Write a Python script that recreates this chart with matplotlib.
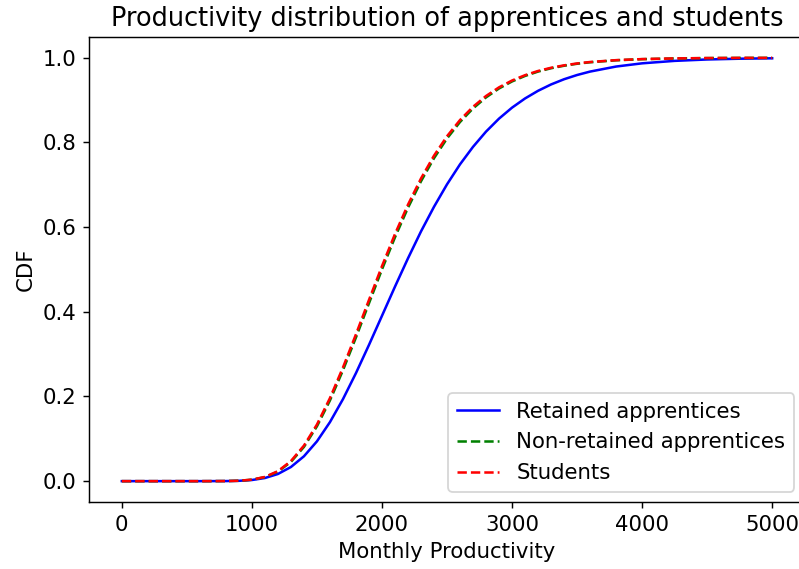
import matplotlib
matplotlib.use("Agg")
import matplotlib.pyplot as plt

# productivité mensuelle (axe x) et CDF
productivity = [0, 200, 400, 600, 800, 900, 1000, 1100, 1200, 1300, 1400, 1500,
                1600, 1700, 1800, 1900, 2000, 2100, 2200, 2300, 2400, 2500,
                2600, 2700, 2800, 2900, 3000, 3100, 3200, 3300, 3400, 3500,
                3600, 3800, 4000, 4250, 4500, 4750, 5000]

cdf_retained = [0.0, 0.0, 0.0, 0.0, 0.0002, 0.0008, 0.0027, 0.0074, 0.0169, 0.0334,
                0.0587, 0.0940, 0.1394, 0.1936, 0.2552, 0.3217, 0.3905, 0.4594,
                0.5263, 0.5898, 0.6480, 0.7010, 0.7483, 0.7896, 0.8256, 0.8563,
                0.8822, 0.9039, 0.9220, 0.9370, 0.9493, 0.9593, 0.9674, 0.9793,
                0.9869, 0.9927, 0.9960, 0.9978, 0.9988]

cdf_non_retained = [0.0, 0.0, 0.0, 0.0, 0.0002, 0.0009, 0.0034, 0.0095, 0.0225, 0.0455,
                    0.0808, 0.1295, 0.1906, 0.2618, 0.3394, 0.4200, 0.5000, 0.5759,
                    0.6457, 0.7082, 0.7627, 0.8093, 0.8483, 0.8803, 0.9064, 0.9275,
                    0.9441, 0.9571, 0.9674, 0.9753, 0.9812, 0.9859, 0.9894, 0.9941,
                    0.9967, 0.9984, 0.9993, 0.9997, 0.9998]

cdf_students = [0.0, 0.0, 0.0, 0.0, 0.0002, 0.0009, 0.0035, 0.0100, 0.0236, 0.0475,
                0.0839, 0.1337, 0.1962, 0.2684, 0.3468, 0.4279, 0.5078, 0.5836,
                0.6530, 0.7149, 0.7688, 0.8146, 0.8529, 0.8842, 0.9097, 0.9302,
                0.9463, 0.9589, 0.9688, 0.9764, 0.9821, 0.9866, 0.9900, 0.9944,
                0.9969, 0.9985, 0.9993, 0.9997, 0.9998]

DPI = 130
FS = 11.8   # texte un peu plus grand que le défaut, comme sur la référence
plt.rcParams.update({"font.size": FS, "axes.titlesize": 14.2,
                     "xtick.labelsize": FS, "ytick.labelsize": FS,
                     "legend.fontsize": FS, "axes.labelsize": FS})

fig = plt.figure(figsize=(799 / DPI, 569 / DPI), dpi=DPI)
# la référence est rognée à droite : l'axe dépasse légèrement le bord
ax = fig.add_axes([0.1118, 0.1172, 0.8953, 0.8183])

ax.plot(productivity, cdf_retained, color="blue", linestyle="-", lw=1.4, label="Retained apprentices")
ax.plot(productivity, cdf_non_retained, color="green", linestyle="--", lw=1.4, label="Non-retained apprentices")
ax.plot(productivity, cdf_students, color="red", linestyle="--", lw=1.4, label="Students")

ax.set_title("Productivity distribution of apprentices and students")
ax.set_xlabel("Monthly Productivity")
ax.set_ylabel("CDF")
ax.legend(loc="lower right")

fig.savefig("out.png", dpi=DPI)
